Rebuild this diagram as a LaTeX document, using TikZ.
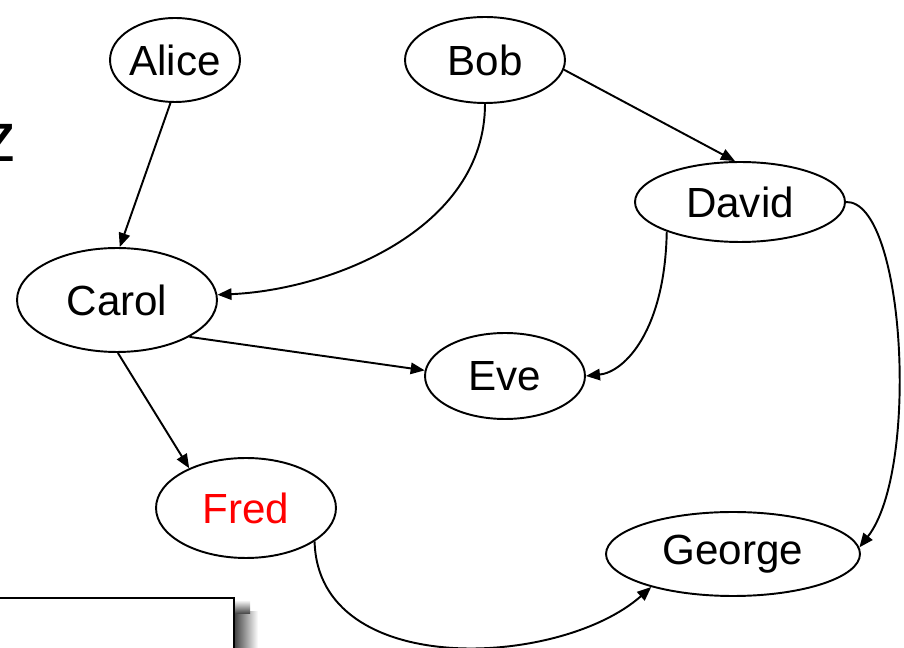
\documentclass[tikz,border=0pt]{standalone}
\usepackage{fontspec}
\setmainfont{Liberation Sans}
\usepackage{xcolor}
\usepackage{tikz}
\usetikzlibrary{calc,arrows.meta,shapes.geometric,positioning}

\begin{document}
\begin{tikzpicture}[x=0.02cm,y=-0.02cm,line width=1.1pt,
    person/.style={ellipse,draw,inner sep=0pt,font=\fontsize{24}{28}\selectfont},
    link/.style={-{Triangle[length=8pt,width=6.5pt]}}]
  \useasboundingbox (0,0) rectangle (904,648);
  \clip (0,0) rectangle (904,648);
  % the people
  \node[person,minimum width=2.6cm,minimum height=1.68cm] (Alice) at (175,60) {Alice};
  \node[person,minimum width=3.2cm,minimum height=1.72cm] (Bob) at (485,60) {Bob};
  \node[person,minimum width=4.2cm,minimum height=1.6cm] (David) at (740,202) {David};
  \node[person,minimum width=4.0cm,minimum height=2.08cm] (Carol) at (117,300) {Carol};
  \node[person,minimum width=3.2cm,minimum height=1.72cm] (Eve) at (505,376) {Eve};
  \node[person,minimum width=3.6cm,minimum height=2.0cm,text=red] (Fred) at (246,508) {Fred};
  \node[person,minimum width=5.08cm,minimum height=1.68cm] (George) at (733,554) {George};
  % cut-off letter at the left edge
  \node[anchor=base east,inner sep=0pt,font=\fontsize{40}{44}\selectfont] (zz) at (18,162) {z};
  % straight links
  \draw[link] (Alice.-96) -- (Carol.87);
  \draw[link] (Bob.-7) -- (David.97);
  \draw[link] (Carol.-27) -- (Eve.176);
  \draw[link] (Carol.-89) -- (Fred.145);
  % bent links
  \draw[link] (Bob.-90) .. controls (485,230) and (330,290) .. (Carol.3);
  \draw[link] (David.-158) .. controls (665,330) and (625,372) .. (Eve.0);
  \draw[link] (David.0) .. controls (905,200) and (920,470) .. (George.3);
  \draw[link] (Fred.-26) .. controls (318,680) and (560,668) .. (George.-158);
  % box with its shadow
  \shade[left color=black!75,right color=white] (234,612) rectangle (258,660);
  \shade[top color=white,bottom color=black!75] (234,600) rectangle (250,614);
  \draw[line width=1.6pt,fill=white] (-10,598) rectangle (234,660);
\end{tikzpicture}
\end{document}
